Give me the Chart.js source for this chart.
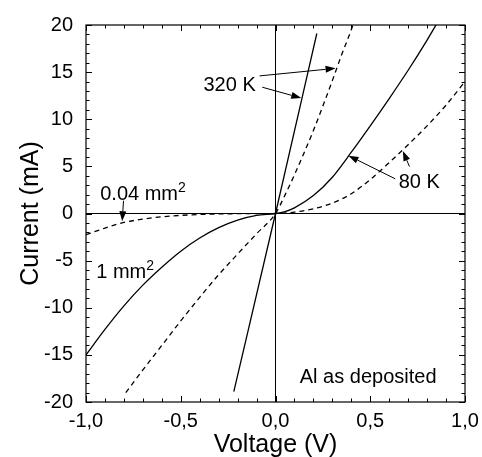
<!DOCTYPE html>
<html>
<head>
<meta charset="utf-8">
<script src="https://cdn.jsdelivr.net/npm/chart.js@4"></script>
<style>
  html, body { margin: 0; padding: 0; background: #fff; }
  canvas { display: block; }
</style>
</head>
<body>
<canvas id="ivChart" width="482" height="457"></canvas>
<script>
const FONT = '"Liberation Sans", Arial, sans-serif';

// Tick labels (comma decimals as in the original)
const xMajor = [-1, -0.5, 0, 0.5, 1];
const xTickLabels = ['-1,0', '-0,5', '0,0', '0,5', '1,0'];
const yMajor = [20, 15, 10, 5, 0, -5, -10, -15, -20];
const yTickLabels = ['20', '15', '10', '5', '0', '-5', '-10', '-15', '-20'];

// 80 K, 1 mm2 (solid)
const v80big = [-1.0, -0.9, -0.8, -0.7, -0.6, -0.5, -0.4, -0.3, -0.2, -0.1, 0, 0.05, 0.1, 0.2, 0.3, 0.4, 0.5, 0.6, 0.7, 0.8, 0.85];
const i80big = [-15.0, -12.3, -9.8, -7.6, -5.7, -4.0, -2.6, -1.5, -0.7, -0.2, 0, 0.2, 0.6, 1.9, 3.85, 6.5, 9.3, 12.2, 15.2, 18.4, 20.1];

// 80 K, 0.04 mm2 (dashed)
const v80small = [-1.0, -0.9, -0.8, -0.7, -0.6, -0.5, -0.4, -0.3, -0.2, 0, 0.1, 0.2, 0.3, 0.4, 0.5, 0.6, 0.7, 0.8, 0.9, 1.0];
const i80small = [-2.25, -1.55, -0.95, -0.6, -0.35, -0.2, -0.1, -0.05, -0.02, 0, 0.15, 0.5, 1.1, 2.1, 3.6, 5.4, 7.3, 9.3, 11.5, 14.0];

// 320 K, 1 mm2 (solid)
const v320big = [-0.22, 0, 0.218];
const i320big = [-18.9, 0, 19.1];

// 320 K, 0.04 mm2 (dashed)
const v320small = [-0.79, -0.7, -0.6, -0.5, -0.4, -0.3, -0.2, -0.1, 0, 0.05, 0.1, 0.15, 0.2, 0.25, 0.3, 0.35, 0.4, 0.41];
const i320small = [-19.0, -16.6, -14.0, -11.4, -8.9, -6.5, -4.3, -2.15, 0, 1.95, 4.1, 6.4, 8.8, 11.4, 14.1, 16.9, 19.5, 20.1];

// Text labels, placed in data coordinates (left edge, baseline)
const notes = [
  { text: '320 K', v: -0.38, i: 13.0 },
  { text: '80 K', v: 0.65, i: 2.75 },
  { text: '0.04 mm', sup: '2', v: -0.925, i: 1.4 },
  { text: '1 mm', sup: '2', v: -0.946, i: -6.8 },
  { text: 'Al as deposited', v: 0.128, i: -18.0 }
];

// Arrows: tail -> head, in data coordinates
const arrows = [
  [-0.084, 14.6, 0.317, 15.4],
  [-0.070, 13.4, 0.136, 12.25],
  [0.632, 3.68, 0.385, 6.14],
  [0.707, 4.98, 0.672, 6.63],
  [-0.802, 1.36, -0.809, -0.82]
];

const toPoints = (vs, is) => vs.map((v, k) => ({ x: v, y: is[k] }));

function curve(label, vs, is, dashed) {
  return {
    label: label,
    data: toPoints(vs, is),
    showLine: true,
    borderColor: '#000',
    borderWidth: 1.3,
    borderDash: dashed ? [5, 4] : [],
    pointRadius: 0,
    cubicInterpolationMode: 'monotone',
    fill: false
  };
}

const frameTicks = {
  id: 'frameTicks',
  afterDatasetsDraw(chart) {
    const { ctx, chartArea: a, scales: { x, y } } = chart;
    ctx.save();
    ctx.strokeStyle = '#000';
    ctx.lineWidth = 1.2;
    ctx.strokeRect(a.left, a.top, a.right - a.left, a.bottom - a.top);
    ctx.lineWidth = 1;
    ctx.beginPath();
    x.ticks.forEach(t => {
      const px = Math.round(x.getPixelForValue(t.value)) + 0.5;
      const len = xMajor.some(m => Math.abs(m - t.value) < 1e-9) ? 6 : 3.5;
      ctx.moveTo(px, a.bottom); ctx.lineTo(px, a.bottom - len);
      ctx.moveTo(px, a.top); ctx.lineTo(px, a.top + len);
    });
    y.ticks.forEach(t => {
      const py = Math.round(y.getPixelForValue(t.value)) + 0.5;
      const len = yMajor.some(m => Math.abs(m - t.value) < 1e-9) ? 6 : 3.5;
      ctx.moveTo(a.left, py); ctx.lineTo(a.left + len, py);
      ctx.moveTo(a.right, py); ctx.lineTo(a.right - len, py);
    });
    ctx.stroke();

    // annotations
    ctx.fillStyle = '#000';
    ctx.textBaseline = 'alphabetic';
    ctx.textAlign = 'left';
    notes.forEach(n => {
      const px = x.getPixelForValue(n.v), py = y.getPixelForValue(n.i);
      ctx.font = '20px ' + FONT;
      ctx.fillText(n.text, px, py);
      if (n.sup) {
        const w = ctx.measureText(n.text).width;
        ctx.font = '14px ' + FONT;
        ctx.fillText(n.sup, px + w, py - 8);
      }
    });

    arrows.forEach(([v0, i0, v1, i1]) => {
      const x0 = x.getPixelForValue(v0), y0 = y.getPixelForValue(i0);
      const x1 = x.getPixelForValue(v1), y1 = y.getPixelForValue(i1);
      const ang = Math.atan2(y1 - y0, x1 - x0);
      const hl = 10, hw = 3.5;
      ctx.beginPath();
      ctx.moveTo(x0, y0);
      ctx.lineTo(x1 - hl * Math.cos(ang), y1 - hl * Math.sin(ang));
      ctx.stroke();
      ctx.beginPath();
      ctx.moveTo(x1, y1);
      ctx.lineTo(x1 - hl * Math.cos(ang) + hw * Math.sin(ang), y1 - hl * Math.sin(ang) - hw * Math.cos(ang));
      ctx.lineTo(x1 - hl * Math.cos(ang) - hw * Math.sin(ang), y1 - hl * Math.sin(ang) + hw * Math.cos(ang));
      ctx.closePath();
      ctx.fill();
    });
    ctx.restore();
  }
};

const zeroGrid = {
  color: c => (c.tick && c.tick.value === 0 ? '#000' : 'rgba(0,0,0,0)'),
  lineWidth: 1,
  drawTicks: false
};

const ctx = document.getElementById('ivChart').getContext('2d');

const myChart = new Chart(ctx, {
  type: 'scatter',
  data: {
    datasets: [
      curve('80 K, 1 mm2', v80big, i80big, false),
      curve('80 K, 0.04 mm2', v80small, i80small, true),
      curve('320 K, 1 mm2', v320big, i320big, false),
      curve('320 K, 0.04 mm2', v320small, i320small, true)
    ]
  },
  options: {
    responsive: false,
    devicePixelRatio: 1,
    animation: false,
    layout: { padding: { left: 0, right: 17, top: 22, bottom: 0 } },
    scales: {
      x: {
        type: 'linear',
        min: -1,
        max: 1,
        grid: zeroGrid,
        border: { display: false },
        afterFit: s => { s.height = 55; s.paddingLeft = 0; s.paddingRight = 0; },
        ticks: {
          stepSize: 0.1,
          autoSkip: false,
          maxRotation: 0,
          padding: 7,
          color: '#000',
          font: { family: FONT, size: 20 },
          callback: v => {
            const k = xMajor.findIndex(m => Math.abs(m - v) < 1e-9);
            return k < 0 ? '' : xTickLabels[k];
          }
        },
        title: {
          display: true,
          text: 'Voltage (V)',
          color: '#000',
          font: { family: FONT, size: 25 },
          padding: { top: 0, bottom: -3 }
        }
      },
      y: {
        type: 'linear',
        min: -20,
        max: 20,
        grid: zeroGrid,
        border: { display: false },
        afterFit: s => { s.width = 86; },
        ticks: {
          stepSize: 1,
          autoSkip: false,
          padding: 13,
          color: '#000',
          font: { family: FONT, size: 20 },
          callback: v => {
            const k = yMajor.findIndex(m => Math.abs(m - v) < 1e-9);
            return k < 0 ? '' : yTickLabels[k];
          }
        },
        title: {
          display: true,
          text: 'Current (mA)',
          color: '#000',
          font: { family: FONT, size: 25 },
          padding: { top: 16, bottom: 0 }
        }
      }
    },
    plugins: {
      legend: { display: false },
      tooltip: { enabled: false }
    }
  },
  plugins: [frameTicks]
});
</script>
</body>
</html>
